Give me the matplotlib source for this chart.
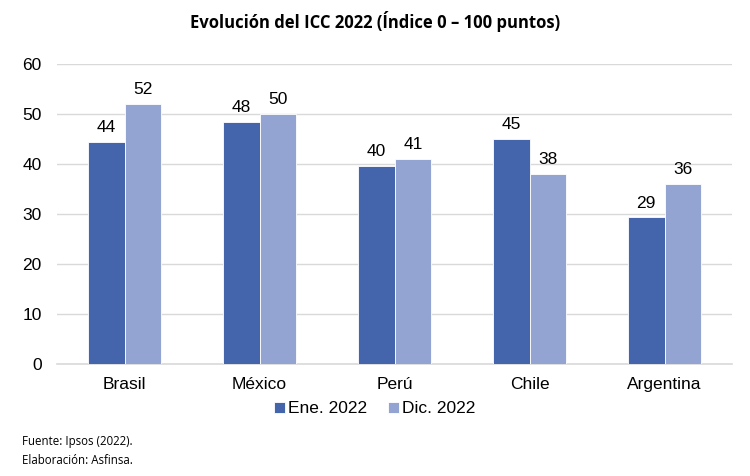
import numpy as np
import matplotlib.pyplot as plt

paises = ['Brasil', 'México', 'Perú', 'Chile', 'Argentina']
ene_2022 = [44.3, 48.3, 39.6, 44.9, 29.3]
dic_2022 = [51.9, 50.0, 40.9, 38.0, 35.9]
etiquetas_ene = ['44', '48', '40', '45', '29']
etiquetas_dic = ['52', '50', '41', '38', '36']

c_ene = '#4464ac'
c_dic = '#93a3d2'

plt.rcParams['font.family'] = ['Liberation Sans', 'DejaVu Sans']

fig = plt.figure(figsize=(7.5, 4.76), dpi=100)
ax = fig.add_axes([0.076, 0.235, 0.9, 0.631])

x = np.arange(len(paises))
w = 0.274
b1 = ax.bar(x - w / 2, ene_2022, w, color=c_ene, edgecolor='white', linewidth=0.6,
            label='Ene. 2022', zorder=3)
b2 = ax.bar(x + w / 2, dic_2022, w, color=c_dic, edgecolor='white', linewidth=0.6,
            label='Dic. 2022', zorder=3)
ax.bar_label(b1, labels=etiquetas_ene, padding=5, fontsize=12.5)
ax.bar_label(b2, labels=etiquetas_dic, padding=5, fontsize=12.5)

ax.set_xlim(-0.5, len(paises) - 0.5)
ax.set_ylim(0, 60)
ax.set_yticks(range(0, 61, 10))
ax.set_xticks(x)
ax.set_xticklabels(paises)
ax.tick_params(axis='both', length=0, labelsize=12.5)
ax.tick_params(axis='x', pad=9)
ax.tick_params(axis='y', pad=11)
ax.grid(axis='y', color='#d9d9d9', linewidth=1, zorder=0)
for s in ['top', 'right', 'left']:
    ax.spines[s].set_visible(False)
ax.spines['bottom'].set_color('#d9d9d9')
ax.spines['bottom'].set_linewidth(1.2)

fig.legend(loc='center', bbox_to_anchor=(0.5, 0.141), ncol=2, frameon=False,
           fontsize=12.5, handlelength=0.6, handleheight=0.6, handletextpad=0.2,
           columnspacing=1.2)

fig.text(0.5, 0.955, 'Evolución del ICC 2022 (Índice 0 – 100 puntos)', ha='center', va='center',
         fontsize=12, fontweight='bold', family=['Open Sans', 'DejaVu Sans'])
fig.text(0.029, 0.073, 'Fuente: Ipsos (2022).', fontsize=8.3, va='center',
         family=['Open Sans', 'DejaVu Sans'])
fig.text(0.029, 0.033, 'Elaboración: Asfinsa.', fontsize=8.3, va='center',
         family=['Open Sans', 'DejaVu Sans'])

fig.savefig('out.png', dpi=100, facecolor='white')
